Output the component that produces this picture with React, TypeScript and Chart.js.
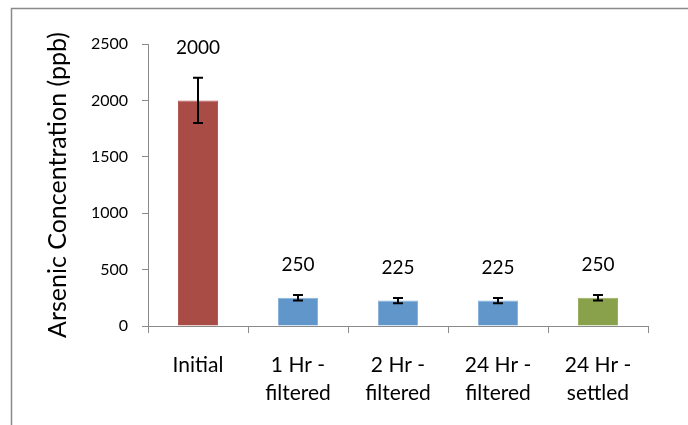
import React, { useEffect, useRef } from "react";
import { Chart, registerables } from "chart.js";

Chart.register(...registerables);

const categories: (string | string[])[] = [
  "Initial",
  ["1 Hr -", "filtered"],
  ["2 Hr -", "filtered"],
  ["24 Hr -", "filtered"],
  ["24 Hr -", "settled"],
];
const values = [2000, 250, 225, 225, 250];
const errors = [200, 25, 22.5, 22.5, 25];
const dataLabels = ["2000", "250", "225", "225", "250"];
const yTicks = [0, 500, 1000, 1500, 2000, 2500];
const barColors = ["#A84C45", "#6196CB", "#6196CB", "#6196CB", "#8AA14B"];
const barBorders = ["#B35A53", "#8AB2DC", "#8AB2DC", "#8AB2DC", "#9AAF5F"];
const yTitle = "Arsenic Concentration (ppb)";

const FONT = "Lato, 'Open Sans', sans-serif";

const framePlugin = {
  id: "frame",
  beforeDraw(chart: any) {
    const ctx = chart.ctx;
    ctx.save();
    ctx.fillStyle = "#ffffff";
    ctx.fillRect(0, 0, chart.width, chart.height);
    ctx.strokeStyle = "#8a8a8a";
    ctx.lineWidth = 1.5;
    ctx.beginPath();
    ctx.moveTo(11.5, chart.height + 2);
    ctx.lineTo(11.5, 8.5);
    ctx.lineTo(chart.width + 2, 8.5);
    ctx.stroke();
    ctx.restore();
  },
};

const errorLabelPlugin = {
  id: "errorLabels",
  afterDatasetsDraw(chart: any) {
    const ctx = chart.ctx;
    const meta = chart.getDatasetMeta(0);
    const yScale = chart.scales.y;
    ctx.save();
    meta.data.forEach((bar: any, i: number) => {
      const x = bar.x;
      const yTop = yScale.getPixelForValue(values[i] + errors[i]);
      const yBot = yScale.getPixelForValue(values[i] - errors[i]);
      ctx.strokeStyle = "#000000";
      ctx.lineWidth = 2;
      ctx.beginPath();
      ctx.moveTo(x, yTop);
      ctx.lineTo(x, yBot);
      ctx.moveTo(x - 5, yTop);
      ctx.lineTo(x + 5, yTop);
      ctx.moveTo(x - 5, yBot);
      ctx.lineTo(x + 5, yBot);
      ctx.stroke();
      ctx.fillStyle = "#000000";
      ctx.font = `19px ${FONT}`;
      ctx.textAlign = "center";
      ctx.textBaseline = "middle";
      ctx.fillText(dataLabels[i], x, yTop - 30);
    });
    ctx.restore();
  },
};

export default function App() {
  const ref = useRef<HTMLCanvasElement | null>(null);
  useEffect(() => {
    document.body.style.margin = "0";
    if (!ref.current) return;
    const chart = new Chart(ref.current, {
      type: "bar",
      data: {
        labels: categories as any,
        datasets: [
          {
            data: values,
            backgroundColor: barColors,
            borderColor: barBorders,
            borderWidth: 1,
            barPercentage: 0.4,
            categoryPercentage: 1,
          },
        ],
      },
      options: {
        animation: false,
        responsive: false,
        maintainAspectRatio: false,
        devicePixelRatio: 1,
        layout: { padding: { top: 44, right: 40, left: 0, bottom: 0 } },
        plugins: {
          legend: { display: false },
          tooltip: { enabled: false },
        },
        scales: {
          x: {
            afterFit: (s: any) => {
              s.height = 99;
            },
            grid: {
              drawOnChartArea: false,
              drawTicks: true,
              tickLength: 7,
              color: "#8a8a8a",
              offset: true,
            },
            border: { color: "#8a8a8a", width: 1 },
            ticks: {
              color: "#000000",
              font: { family: FONT, size: 21, lineHeight: 28 / 21 },
              padding: 18,
              maxRotation: 0,
              autoSkip: false,
            },
          },
          y: {
            min: 0,
            max: 2500,
            afterFit: (s: any) => {
              s.width = 148;
            },
            afterBuildTicks: (s: any) => {
              s.ticks = yTicks.map((v) => ({ value: v }));
            },
            grid: {
              drawOnChartArea: false,
              drawTicks: true,
              tickLength: 6,
              color: "#8a8a8a",
            },
            border: { color: "#8a8a8a", width: 1 },
            ticks: {
              color: "#000000",
              font: { family: FONT, size: 16 },
              padding: 14,
              callback: (v: any) => String(v),
            },
            title: {
              display: true,
              text: yTitle,
              color: "#000000",
              font: { family: FONT, size: 25 },
              padding: { top: 43, bottom: 0 },
            },
          },
        },
      },
      plugins: [framePlugin, errorLabelPlugin],
    });
    return () => chart.destroy();
  }, []);
  return (
    <div style={{ width: 688, height: 425 }}>
      <canvas ref={ref} width={688} height={425} style={{ display: "block" }} />
    </div>
  );
}
